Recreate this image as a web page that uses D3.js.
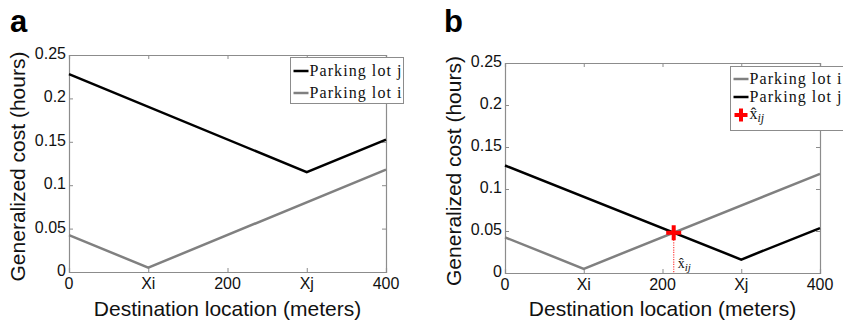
<!DOCTYPE html>
<html>
<head>
<meta charset="utf-8">
<script src="https://cdn.jsdelivr.net/npm/d3@7/dist/d3.min.js"></script>
<style>
  html, body { margin: 0; padding: 0; background: #fff; }
  svg { display: block; }
  .tick-label { font-family: "Liberation Sans", Arial, sans-serif; font-size: 16px; fill: #111; }
  .axis-title { font-family: "Liberation Sans", Arial, sans-serif; font-size: 21px; fill: #111; }
  .panel-letter { font-family: "Liberation Sans", Arial, sans-serif; font-size: 31px; font-weight: bold; fill: #000; }
  .legend-text { font-family: "Liberation Serif", "Times New Roman", serif; font-size: 16px; fill: #111; }
</style>
</head>
<body>
<svg id="chart" width="843" height="321"></svg>
<script>
// Axis ticks (destination location in meters, cost in hours)
const xTickValues = [0, 100, 200, 300, 400];
const xTickLabels = ["0", "Xi", "200", "Xj", "400"];
const yTickValues = [0, 0.05, 0.1, 0.15, 0.2, 0.25];
const yTickLabels = ["0", "0.05", "0.1", "0.15", "0.2", "0.25"];

// Generalized cost breakpoints for each parking lot
const lotIX = [0, 100, 400];
const lotIY = [0.0425, 0.005, 0.118];
const lotJX_a = [0, 300, 400];
const lotJY_a = [0.228, 0.115, 0.1525];
const lotJX_b = [0, 300, 400];
const lotJY_b = [0.128, 0.016, 0.0535];

const legendA = ["Parking lot j", "Parking lot i"];
const legendB = ["Parking lot i", "Parking lot j"];

const BLACK = "#000000";
const GREY = "#808080";
const AXIS = "#8c8c8c";
const RED = "#ff0000";

const svg = d3.select("#chart");

function toPoints(xs, ys) { return xs.map((x, i) => ({ x, y: ys[i] })); }

// Intersection of two piecewise-linear series
function crossing(a, b) {
  for (let i = 0; i < a.length - 1; i++) {
    for (let j = 0; j < b.length - 1; j++) {
      const p = a[i], p2 = a[i + 1], q = b[j], q2 = b[j + 1];
      const d = (p2.x - p.x) * (q2.y - q.y) - (p2.y - p.y) * (q2.x - q.x);
      if (d === 0) continue;
      const t = ((q.x - p.x) * (q2.y - q.y) - (q.y - p.y) * (q2.x - q.x)) / d;
      const u = ((q.x - p.x) * (p2.y - p.y) - (q.y - p.y) * (p2.x - p.x)) / d;
      if (t >= 0 && t <= 1 && u >= 0 && u <= 1) {
        return { x: p.x + t * (p2.x - p.x), y: p.y + t * (p2.y - p.y) };
      }
    }
  }
  return null;
}

function drawPanel(cfg) {
  const { left, right, top, bottom } = cfg;
  const x = d3.scaleLinear().domain([0, 400]).range([left, right]);
  const y = d3.scaleLinear().domain([0, 0.25]).range([bottom, top]);
  const g = svg.append("g");

  // Box axes with inward ticks on all four sides
  const tickLen = 4;
  const axBottom = d3.axisBottom(x).tickValues(xTickValues).tickSize(-tickLen).tickFormat("");
  const axTop = d3.axisTop(x).tickValues(xTickValues).tickSize(-tickLen).tickFormat("");
  const axLeft = d3.axisLeft(y).tickValues(yTickValues).tickSize(-tickLen).tickFormat("");
  const axRight = d3.axisRight(y).tickValues(yTickValues).tickSize(-tickLen).tickFormat("");
  [[axBottom, `translate(0,${bottom})`], [axTop, `translate(0,${top})`],
   [axLeft, `translate(${left},0)`], [axRight, `translate(${right},0)`]].forEach(([ax, tr]) => {
    const a = g.append("g").attr("transform", tr).call(ax);
    a.selectAll("path.domain").attr("stroke", AXIS).attr("stroke-width", 1.2);
    a.selectAll(".tick line").attr("stroke", AXIS).attr("stroke-width", 1);
  });

  // Tick labels
  g.selectAll(".xl").data(xTickValues).enter().append("text")
    .attr("class", "tick-label").attr("text-anchor", "middle")
    .attr("x", d => x(d)).attr("y", bottom + 17)
    .text((d, i) => xTickLabels[i]);
  g.selectAll(".yl").data(yTickValues).enter().append("text")
    .attr("class", "tick-label").attr("text-anchor", "end")
    .attr("x", left - 3).attr("y", d => y(d) + 4)
    .text((d, i) => yTickLabels[i]);

  // Axis titles
  g.append("text").attr("class", "axis-title").attr("text-anchor", "middle")
    .attr("x", (left + right) / 2).attr("y", 316)
    .text("Destination location (meters)");
  g.append("text").attr("class", "axis-title").attr("text-anchor", "middle")
    .attr("transform", `translate(${left - 44},${(top + bottom) / 2 + 3}) rotate(-90)`)
    .text("Generalized cost (hours)");

  // Panel letter
  g.append("text").attr("class", "panel-letter")
    .attr("x", cfg.letterX).attr("y", 32).text(cfg.letter);

  const line = d3.line().x(d => x(d.x)).y(d => y(d.y));
  cfg.series.forEach(s => {
    g.append("path").datum(s.points).attr("d", line)
      .attr("fill", "none").attr("stroke", s.color).attr("stroke-width", 2.5)
      .attr("stroke-linejoin", "miter");
  });

  return { g, x, y };
}

const lotI = toPoints(lotIX, lotIY);
const lotJa = toPoints(lotJX_a, lotJY_a);
const lotJb = toPoints(lotJX_b, lotJY_b);

// Panel a
const pa = drawPanel({
  left: 69, right: 386, top: 55, bottom: 272, letter: "a", letterX: 10,
  series: [{ points: lotJa, color: BLACK }, { points: lotI, color: GREY }]
});

// Panel b
const pb = drawPanel({
  left: 505, right: 820, top: 63, bottom: 273, letter: "b", letterX: 444,
  series: [{ points: lotI, color: GREY }, { points: lotJb, color: BLACK }]
});

function legendBox(g, x0, y0, w, h) {
  g.append("rect").attr("x", x0).attr("y", y0).attr("width", w).attr("height", h)
    .attr("fill", "#fff").attr("stroke", AXIS).attr("stroke-width", 1);
}
function legendLine(g, x0, yc, color, label) {
  g.append("line").attr("x1", x0 + 3).attr("x2", x0 + 18).attr("y1", yc).attr("y2", yc)
    .attr("stroke", color).attr("stroke-width", 2.5);
  g.append("text").attr("class", "legend-text").attr("x", x0 + 19).attr("y", yc + 5)
    .attr("textLength", 92).attr("lengthAdjust", "spacing").text(label);
}
function plusPath(cx, cy, r) {
  return `M${cx - r},${cy}H${cx + r}M${cx},${cy - r}V${cy + r}`;
}

// Legend a
legendBox(pa.g, 290.5, 57.5, 113, 46);
legendLine(pa.g, 290.5, 71, BLACK, legendA[0]);
legendLine(pa.g, 290.5, 93, GREY, legendA[1]);

// Crossing point of the two cost curves in panel b
const xc = crossing(lotI, lotJb);
const cx = pb.x(xc.x), cy = pb.y(xc.y);
pb.g.append("line").attr("x1", cx).attr("x2", cx).attr("y1", cy).attr("y2", pb.y(0))
  .attr("stroke", "#ff5050").attr("stroke-width", 1.3).attr("stroke-dasharray", "1.2,1.2");
pb.g.append("path").attr("d", plusPath(cx, cy, 7.5))
  .attr("stroke", RED).attr("stroke-width", 4).attr("fill", "none");
const lab = pb.g.append("text").attr("class", "legend-text").style("font-size", "14px")
  .attr("x", cx + 4).attr("y", pb.y(0) - 5);
lab.append("tspan").text("x\u0302");
lab.append("tspan").attr("dy", 3).style("font-size", "11px").style("font-style", "italic").text("ij");

// Legend b
legendBox(pb.g, 730.5, 66.5, 140, 64);
legendLine(pb.g, 730.5, 79, GREY, legendB[0]);
legendLine(pb.g, 730.5, 97, BLACK, legendB[1]);
pb.g.append("path").attr("d", plusPath(741, 115, 6.5))
  .attr("stroke", RED).attr("stroke-width", 4).attr("fill", "none");
const lt = pb.g.append("text").attr("class", "legend-text").style("font-size", "16px")
  .attr("x", 749.5).attr("y", 119);
lt.append("tspan").text("x\u0302");
lt.append("tspan").attr("dy", 3).style("font-size", "12px").style("font-style", "italic").text("ij");
</script>
</body>
</html>
